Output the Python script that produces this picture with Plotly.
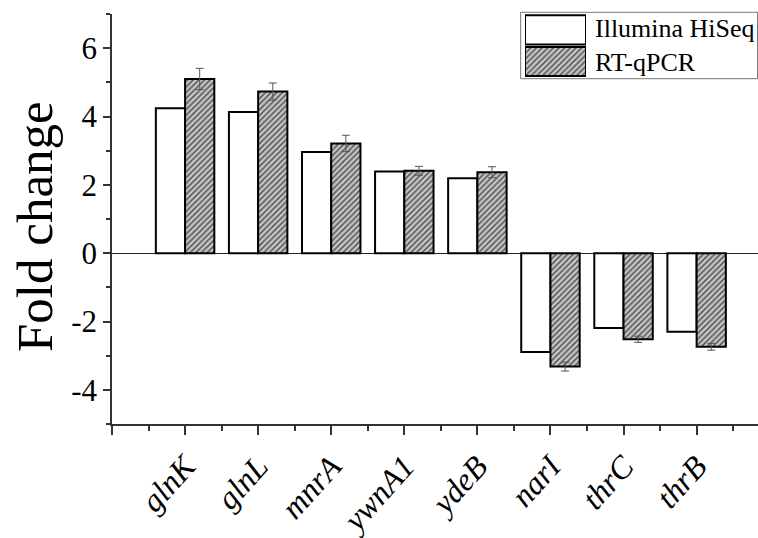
import plotly.graph_objects as go

# Gene names and fold-change values for the two methods
genes = ["glnK", "glnL", "mnrA", "ywnA1", "ydeB", "narI", "thrC", "thrB"]
hiseq = [4.24, 4.13, 2.96, 2.39, 2.19, -2.89, -2.19, -2.30]
qpcr = [5.10, 4.73, 3.21, 2.41, 2.37, -3.32, -2.52, -2.74]
qpcr_err = [0.31, 0.25, 0.24, 0.13, 0.16, 0.13, 0.09, 0.10]

legend_names = ["Illumina HiSeq", "RT-qPCR"]
y_ticks = [-4, -2, 0, 2, 4, 6]
y_title = "Fold change"

FONT = "Liberation Serif"
HATCH = dict(shape="/", bgcolor="#c4c4c4", fgcolor="#4a4a4a", size=4, solidity=0.35)

positions = list(range(1, len(genes) + 1))

fig = go.Figure()
fig.add_trace(go.Bar(
    x=positions, y=hiseq, name=legend_names[0],
    marker=dict(color="white", line=dict(color="black", width=2)),
    showlegend=False,
))
fig.add_trace(go.Bar(
    x=positions, y=qpcr, name=legend_names[1],
    marker=dict(color="#c4c4c4", pattern=HATCH, line=dict(color="black", width=2)),
    error_y=dict(type="data", array=qpcr_err, visible=True,
                 color="#555555", thickness=1, width=4),
    showlegend=False,
))

# Legend swatches drawn as bars on a small auxiliary axis pair
fig.add_trace(go.Bar(
    x=[1], y=[1], orientation="h", width=0.92, xaxis="x3", yaxis="y3",
    marker=dict(color="white", line=dict(color="black", width=2)),
    showlegend=False, hoverinfo="skip", cliponaxis=False,
))
fig.add_trace(go.Bar(
    x=[1], y=[0], orientation="h", width=0.92, xaxis="x3", yaxis="y3",
    marker=dict(color="#c4c4c4", pattern=HATCH, line=dict(color="black", width=2)),
    showlegend=False, hoverinfo="skip", cliponaxis=False,
))

W, H = 758, 538
ML, MR, MT, MB = 112, 0, 14, 114
pw, ph = W - ML - MR, H - MT - MB


def px_x(v):
    return (v - ML) / pw


def px_y(v):
    return (H - MB - v) / ph


fig.update_layout(
    template="none",
    width=W, height=H,
    margin=dict(l=ML, r=MR, t=MT, b=MB, pad=0),
    paper_bgcolor="white", plot_bgcolor="white",
    barmode="group", bargap=0.2, bargroupgap=0,
    font=dict(family=FONT, color="black", size=28),
    xaxis=dict(
        range=[0, 8.84],
        tickmode="array",
        tickvals=[0] + positions,
        ticktext=[""] + [f"<i>{g}</i>" for g in genes],
        tickangle=-48,
        tickfont=dict(family=FONT, size=32, color="black"),
        ticks="outside", ticklen=9, tickwidth=1.5, tickcolor="#333333",
        minor=dict(ticks="outside", ticklen=5, tickwidth=1.5, tickcolor="#333333",
                   tick0=0.5, dtick=1),
        showline=True, linecolor="#333333", linewidth=1.5,
        showgrid=False, zeroline=False, automargin=False,
    ),
    yaxis=dict(
        range=[-5, 7],
        tickmode="array", tickvals=y_ticks,
        ticktext=[str(t) for t in y_ticks],
        tickfont=dict(family=FONT, size=31, color="black"),
        ticks="outside", ticklen=7, tickwidth=1.5, tickcolor="#333333",
        minor=dict(ticks="outside", ticklen=4, tickwidth=1.5, tickcolor="#333333",
                   tick0=-5, dtick=1),
        showline=True, linecolor="#333333", linewidth=1.5,
        showgrid=False, automargin=False,
        zeroline=True, zerolinecolor="#222222", zerolinewidth=1.2,
    ),
    xaxis3=dict(domain=[px_x(525), px_x(586)], range=[0, 1], visible=False,
                anchor="y3", fixedrange=True),
    yaxis3=dict(domain=[px_y(77.3), 1.0], range=[-0.5, 1.5], visible=False,
                anchor="x3", fixedrange=True),
    shapes=[
        dict(type="rect", xref="paper", yref="paper",
             x0=px_x(520.7), x1=px_x(757.5), y0=px_y(78.7), y1=px_y(12.3),
             line=dict(color="#777777", width=1), fillcolor="rgba(0,0,0,0)",
             layer="below"),
    ],
    annotations=[
        dict(text=y_title, xref="paper", yref="paper",
             x=px_x(35), y=px_y(227), xanchor="center", yanchor="middle",
             textangle=-90, showarrow=False,
             font=dict(family=FONT, size=51, color="black")),
        dict(text=legend_names[0], xref="paper", yref="paper",
             x=px_x(593), y=px_y(28.7), xanchor="left", yanchor="middle",
             showarrow=False, font=dict(family=FONT, size=26, color="black")),
        dict(text=legend_names[1], xref="paper", yref="paper",
             x=px_x(593), y=px_y(62.3), xanchor="left", yanchor="middle",
             showarrow=False, font=dict(family=FONT, size=26, color="black")),
    ],
)

fig.write_html("out.html")
